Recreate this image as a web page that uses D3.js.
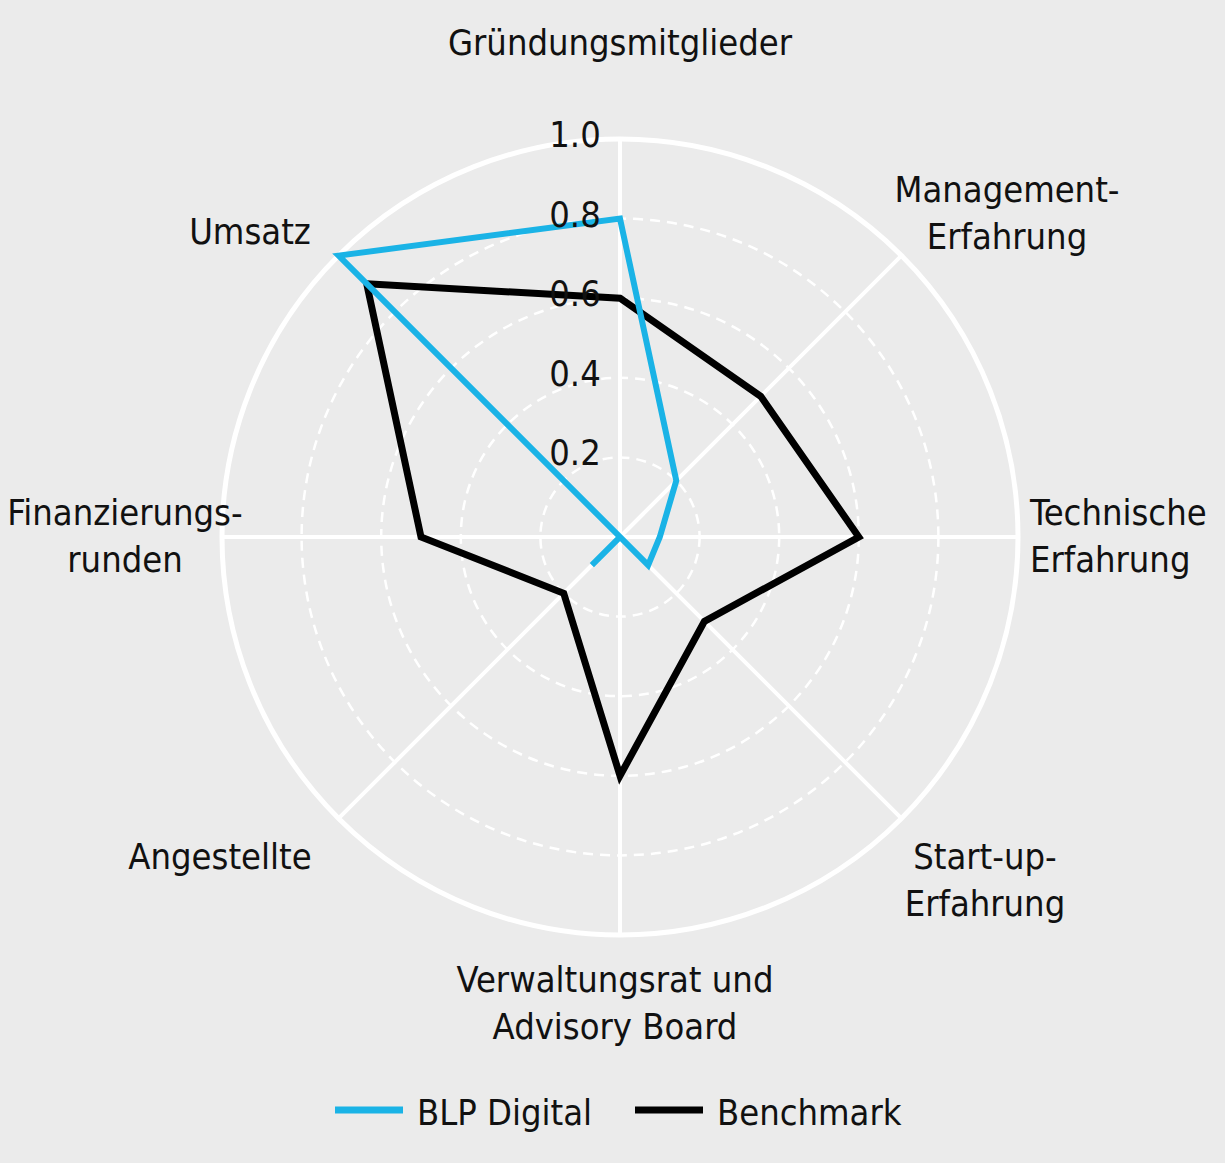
<!DOCTYPE html>
<html><head><meta charset="utf-8">
<script src="https://cdn.jsdelivr.net/npm/d3@7"></script>
<style>body{margin:0;background:#ebebeb}svg{display:block}text{font-stretch:condensed}</style>
</head><body>
<script>
const categories = ["Gründungsmitglieder","Management-\nErfahrung","Technische\nErfahrung","Start-up-\nErfahrung","Verwaltungsrat und\nAdvisory Board","Angestellte","Finanzierungs-\nrunden","Umsatz"];
const blp = [0.8,0.2,0.1,0.1,0,0.1,0,1.0];
const benchmark = [0.6,0.5,0.6,0.3,0.6,0.2,0.5,0.9];
const ticks = [0.2,0.4,0.6,0.8,1.0];
const seriesNames = ["BLP Digital","Benchmark"];

const W=1225,H=1163,cx=620,cy=537,R=398;
const font='"DejaVu Sans Condensed","DejaVu Sans",sans-serif';
const svg=d3.select("body").append("svg").attr("width",W).attr("height",H);
svg.append("rect").attr("width",W).attr("height",H).attr("fill","#ebebeb");
const r=d3.scaleLinear().domain([0,1]).range([0,R]);
const ang=d3.scaleLinear().domain([0,categories.length]).range([0,2*Math.PI]);
const g=svg.append("g").attr("transform",`translate(${cx},${cy})`);

ticks.filter(t=>t<1).forEach(t=>g.append("circle").attr("r",r(t)).attr("fill","none")
  .attr("stroke","#fff").attr("stroke-width",2.5).attr("stroke-dasharray","10,7"));
g.append("circle").attr("r",r(1)).attr("fill","none").attr("stroke","#fff").attr("stroke-width",5);
categories.forEach((c,i)=>{const a=ang(i);
  g.append("line").attr("x2",r(1)*Math.sin(a)).attr("y2",-r(1)*Math.cos(a)).attr("stroke","#fff").attr("stroke-width",4);});

const line=d3.lineRadial().angle((d,i)=>ang(i)).radius(d=>r(d)).curve(d3.curveLinearClosed);
g.append("path").attr("d",line(benchmark)).attr("fill","none").attr("stroke","#000").attr("stroke-width",7).attr("stroke-linejoin","miter");
g.append("path").attr("d",line(blp)).attr("fill","none").attr("stroke","#1ab3e6").attr("stroke-width",6).attr("stroke-linejoin","miter");

ticks.forEach(t=>g.append("text").attr("x",-45).attr("y",-r(t)+8).attr("text-anchor","middle")
  .attr("font-family",font).attr("font-size",36).attr("fill","#111").text(t.toFixed(1)));

const lab=[[0,-482,"middle"],[387,-335,"middle"],[410,-12,"start"],[365,332,"middle"],[-5,455,"middle"],[-400,332,"middle"],[-495,-12,"middle"],[-370,-293,"middle"]];
categories.forEach((c,i)=>{const [x,y,an]=lab[i];
  const t=g.append("text").attr("text-anchor",an).attr("font-family",font).attr("font-size",36).attr("fill","#111");
  c.split("\n").forEach((s,k)=>t.append("tspan").attr("x",x).attr("y",y+k*47).text(s));});

const leg=[[335,"#1ab3e6"],[635,"#000"]];
seriesNames.forEach((n,i)=>{const [x,col]=leg[i];
  svg.append("line").attr("x1",x).attr("x2",x+68).attr("y1",1110).attr("y2",1110).attr("stroke",col).attr("stroke-width",7);
  svg.append("text").attr("x",x+82).attr("y",1125).attr("font-family",font).attr("font-size",36).attr("fill","#111").text(n);});
</script>
</body></html>
